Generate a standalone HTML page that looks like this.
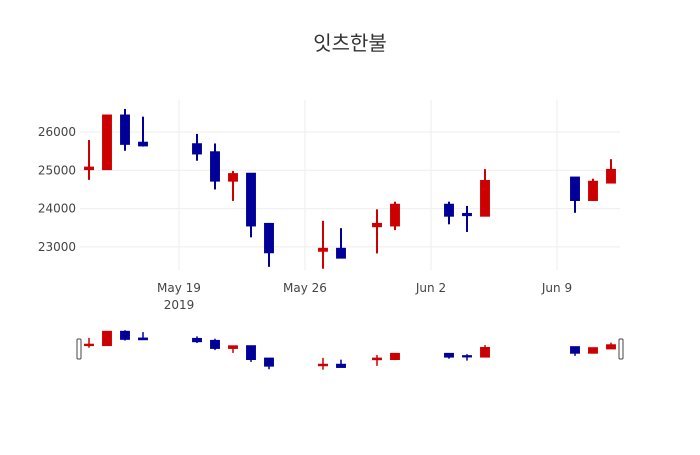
<!DOCTYPE html>
<html><head><meta charset="utf-8"><style>
body{margin:0;background:#fff}
svg text{font-family:"DejaVu Sans","Liberation Sans","Noto Sans CJK KR",sans-serif;fill:#444}
</style></head><body>
<svg id="chart" width="700" height="450">
<text x="350" y="50" text-anchor="middle" font-size="20" style="fill:#333">잇츠한불</text>
<g id="grid"></g><g id="main"></g><g id="axes"></g><g id="slider"></g>
</svg>
<script>
const dates=["2019-05-14","2019-05-15","2019-05-16","2019-05-17","2019-05-20","2019-05-21","2019-05-22","2019-05-23","2019-05-24","2019-05-27","2019-05-28","2019-05-30","2019-05-31","2019-06-03","2019-06-04","2019-06-05","2019-06-10","2019-06-11","2019-06-12"];
const openV=[25030,25030,26430,25720,25680,25470,24730,24910,23600,22900,22950,23540,23560,24100,23860,23815,24810,24225,24680];
const highV=[25790,26430,26600,26400,25950,25700,24980,24910,23600,23680,23490,23980,24180,24180,24070,25030,24810,24780,25290];
const lowV=[24750,25030,25510,25620,25250,24500,24200,23250,22480,22430,22720,22830,23440,23590,23390,23815,23890,24200,24680];
const closeV=[25070,26430,25690,25650,25440,24730,24900,23560,22860,22950,22720,23600,24100,23815,23830,24720,24225,24700,25010];
const yTicks=[23000,24000,25000,26000];
const xTickDates=["2019-05-19","2019-05-26","2019-06-02","2019-06-09"];
const xTickLabels=["May 19","May 26","Jun 2","Jun 9"];
const NS="http://www.w3.org/2000/svg";
const day=86400000;
const x0=Date.parse("2019-05-13T12:00:00Z"), x1=Date.parse("2019-06-12T12:00:00Z");
const L=80,R=620,T=100,B=270;
const yMin=22397,yMax=26835;
const xs=d=>L+(Date.parse(d+"T00:00:00Z")-x0)/(x1-x0)*(R-L);
const ys=v=>B-(v-yMin)/(yMax-yMin)*(B-T);
const sT=328,sB=370;
const yss=v=>sB-(v-yMin)/(yMax-yMin)*(sB-sT);
function mk(tag,attrs,parent){const e=document.createElementNS(NS,tag);for(const k in attrs)e.setAttribute(k,attrs[k]);document.getElementById(parent).appendChild(e);return e;}
yTicks.forEach(v=>{
 const g=mk('line',{x1:L,x2:R,y1:ys(v),y2:ys(v),stroke:'#eee','stroke-width':1},'grid');
 
 
 const t=mk('text',{x:L-4,y:ys(v)+4,'text-anchor':'end','font-size':12},'axes');
 t.textContent=v;
 
 
});
xTickDates.forEach((d,i)=>{
 const g=mk('line',{x1:xs(d),x2:xs(d),y1:T,y2:B,stroke:'#eee','stroke-width':1},'grid');
 
 
 const t=mk('text',{x:xs(d),y:292,'text-anchor':'middle','font-size':12},'axes');
 t.textContent=xTickLabels[i];
 
 
});
const yr=mk('text',{x:xs(xTickDates[0]),y:309,'text-anchor':'middle','font-size':12},'axes');
yr.textContent="2019";


const bw=0.55*day/(x1-x0)*(R-L);
function candles(parent,yf,wk){
 dates.forEach((d,i)=>{
  const up=closeV[i]>=openV[i];const c=up?'#cc0000':'#000099';
  const cx=xs(d);
  const w=mk('line',{x1:cx,x2:cx,y1:yf(highV[i]),y2:yf(lowV[i]),stroke:c,'stroke-width':wk},parent);
  
  
  const top=yf(Math.max(openV[i],closeV[i])),bot=yf(Math.min(openV[i],closeV[i]));
  const r=mk('rect',{x:cx-bw/2,y:top-1,width:bw,height:Math.max(bot-top,0)+2,fill:c},parent);
  
  
 });
}
candles('main',ys,2);
candles('slider',yss,1.5);
[L-2,R].forEach((hx,i)=>{
 const h=mk('rect',{x:hx-1,y:339,width:4,height:20,rx:1,fill:'#fff',stroke:'#444','stroke-width':1},'slider');
 
 
});
</script>
</body></html>
